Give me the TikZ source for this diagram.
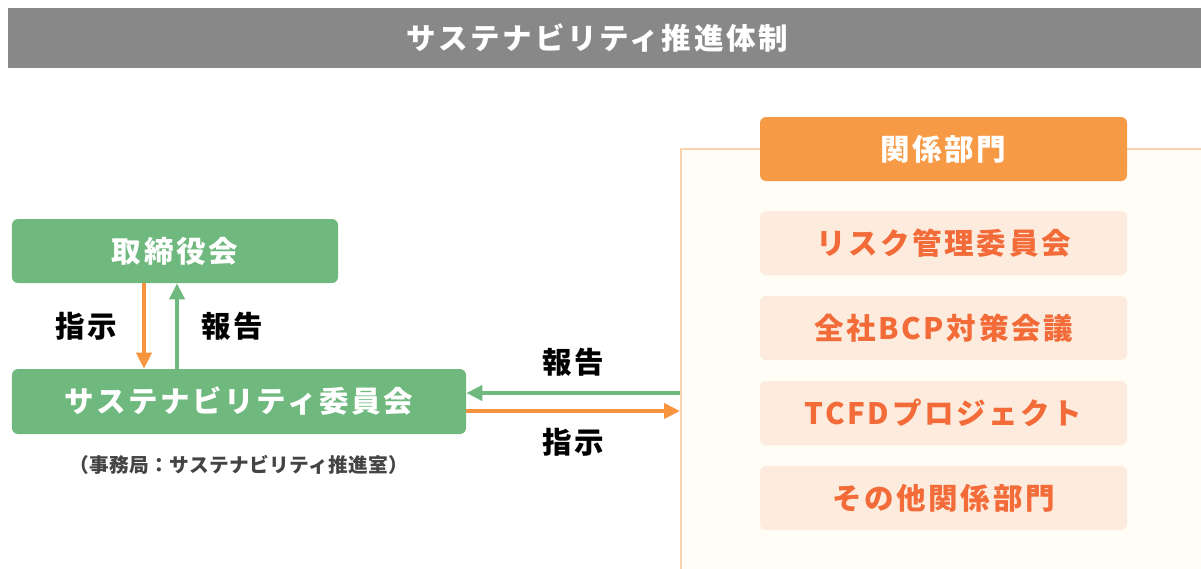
\documentclass[tikz,border=0pt]{standalone}
\usepackage{fontspec}
\setmainfont{Noto Sans CJK JP}[LetterSpace=9]
\usetikzlibrary{positioning,arrows.meta}

\definecolor{bannergray}{HTML}{888888}
\definecolor{boardgreen}{HTML}{6FB87E}
\definecolor{arroworange}{HTML}{F7943D}
\definecolor{hdrorange}{HTML}{F79A45}
\definecolor{itemfill}{HTML}{FDEBDD}
\definecolor{itemtext}{HTML}{F26B38}
\definecolor{panelline}{HTML}{FBD3AE}
\definecolor{panelfill}{HTML}{FFFDF6}
\definecolor{notegray}{HTML}{444444}

\newcommand{\bigjp}{\bfseries\fontsize{16.8pt}{19pt}\selectfont}

\begin{document}
\begin{tikzpicture}[
  >={Triangle[length=0.32cm,width=0.3cm]},
  greenbox/.style={fill=boardgreen, rounded corners=0.12cm, text=white, font=\bigjp},
  itembox/.style={fill=itemfill, rounded corners=0.12cm, minimum width=7.34cm, minimum height=1.28cm, text=itemtext, font=\bigjp},
  lbl/.style={inner sep=0pt, text=black, font=\bigjp},
  flow/.style={line width=2.2pt}
]
  \clip (0,0) rectangle (24.02,-11.36);

  % title banner
  \fill[bannergray] (0.16,-0.16) rectangle (24.1,-1.36);
  \node[text=white, font=\bigjp] (title) at (11.95,-0.76) {サステナビリティ推進体制};

  % left side
  \node[greenbox, minimum width=6.52cm, minimum height=1.28cm] (board) at (3.5,-5.02) {取締役会};
  \node[greenbox, minimum width=9.08cm, minimum height=1.3cm] (cmt) at (4.78,-8.03) {サステナビリティ委員会};
  \node[text=notegray, font=\bfseries\fontsize{11.2pt}{13pt}\selectfont\addfontfeature{LetterSpace=2}] (note) at (4.78,-9.3) {（事務局：サステナビリティ推進室）};

  \coordinate (dn) at ([xshift=-0.62cm]board.south);
  \coordinate (up) at ([xshift=0.04cm]board.south);
  \draw[flow, arroworange, ->] (dn) -- (dn |- cmt.north)
    node[lbl, midway, left=0.5cm] (inst1) {指示};
  \draw[flow, boardgreen, ->] (up |- cmt.north) -- (up)
    node[lbl, midway, right=0.45cm] (rep1) {報告};

  % right panel
  \node[draw=panelline, fill=panelfill, line width=1pt, anchor=north west,
        minimum width=10.9cm, minimum height=8.8cm] (panel) at (13.6,-2.96) {};
  \node[fill=hdrorange, rounded corners=0.12cm, minimum width=7.34cm, minimum height=1.28cm,
        text=white, font=\bigjp] (dept) at (18.87,-2.98) {関係部門};
  \foreach \txt [count=\i] in {リスク管理委員会, 全社BCP対策会議, TCFDプロジェクト, その他関係部門}
    \node[itembox] (item\i) at (18.87,{-3.16-1.7*\i}) {\txt};

  % report / instruction between committee and departments
  \coordinate (gR) at ([yshift=0.17cm]cmt.east);
  \coordinate (oR) at ([yshift=-0.19cm]cmt.east);
  \draw[flow, boardgreen, ->] (panel.west |- gR) -- (gR)
    node[lbl, midway, above=0.3cm] (rep2) {報告};
  \draw[flow, arroworange, ->] (oR) -- (panel.west |- oR)
    node[lbl, midway, below=0.3cm] (inst2) {指示};
\end{tikzpicture}
\end{document}
